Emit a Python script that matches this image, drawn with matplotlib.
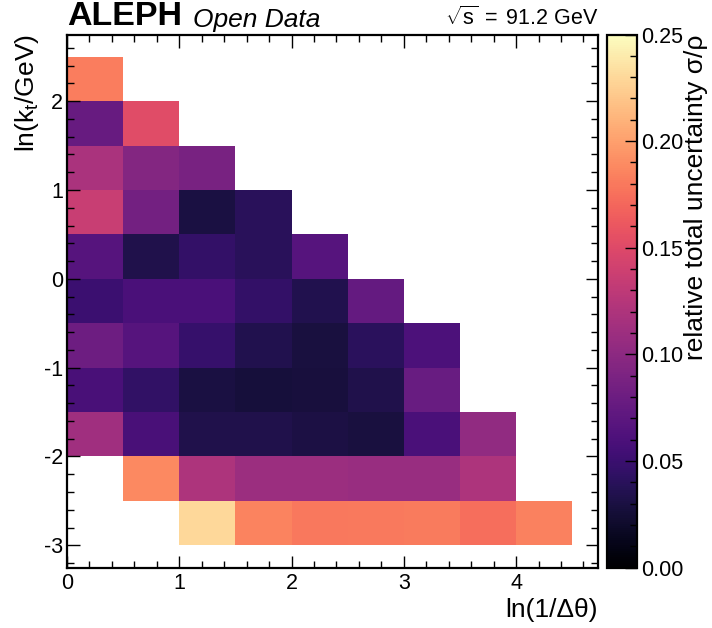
import numpy as np
import matplotlib
matplotlib.use("Agg")
import matplotlib.pyplot as plt
from matplotlib.ticker import MultipleLocator, FormatStrFormatter

plt.rcParams['font.family'] = ['Liberation Sans', 'DejaVu Sans']
plt.rcParams['mathtext.fontset'] = 'custom'
plt.rcParams['mathtext.rm'] = 'Liberation Sans'
plt.rcParams['mathtext.it'] = 'Liberation Sans:italic'
plt.rcParams['axes.unicode_minus'] = False

# bin edges: ln(1/dtheta) and ln(kt/GeV)
x_edges = np.arange(0, 5.0, 0.5)
y_edges = np.arange(-3.0, 3.0, 0.5)

nan = np.nan
# relative total uncertainty, one list per ln(kt) row, bottom (-3.0) to top (2.0)
row_m30 = [nan, nan, 0.230, 0.185, 0.179, 0.180, 0.181, 0.174, 0.184]
row_m25 = [nan, 0.188, 0.120, 0.109, 0.109, 0.107, 0.107, 0.120, nan]
row_m20 = [0.112, 0.058, 0.034, 0.034, 0.031, 0.029, 0.059, 0.103, nan]
row_m15 = [0.058, 0.044, 0.030, 0.027, 0.028, 0.034, 0.078, nan, nan]
row_m10 = [0.081, 0.066, 0.047, 0.035, 0.029, 0.041, 0.060, nan, nan]
row_m05 = [0.050, 0.059, 0.059, 0.045, 0.035, 0.075, nan, nan, nan]
row_p00 = [0.066, 0.034, 0.045, 0.040, 0.066, nan, nan, nan, nan]
row_p05 = [0.136, 0.084, 0.030, 0.040, nan, nan, nan, nan, nan]
row_p10 = [0.118, 0.094, 0.087, nan, nan, nan, nan, nan, nan]
row_p15 = [0.077, 0.152, nan, nan, nan, nan, nan, nan, nan]
row_p20 = [0.182, nan, nan, nan, nan, nan, nan, nan, nan]

rows = [row_m30, row_m25, row_m20, row_m15, row_m10, row_m05,
        row_p00, row_p05, row_p10, row_p15, row_p20]
z = np.ma.masked_invalid(np.array(rows))

fig = plt.figure(figsize=(7.12, 6.28), dpi=100)
ax = fig.add_axes([0.0941, 0.0963, 0.7458, 0.8487])
cax = fig.add_axes([0.852, 0.0963, 0.042, 0.8487])

mesh = ax.pcolormesh(x_edges, y_edges, z, cmap='magma', vmin=0, vmax=0.25)
ax.set_xlim(0, 4.73)
ax.set_ylim(-3.25, 2.75)

ax.xaxis.set_major_locator(MultipleLocator(1))
ax.xaxis.set_minor_locator(MultipleLocator(0.2))
ax.yaxis.set_major_locator(MultipleLocator(1))
ax.yaxis.set_minor_locator(MultipleLocator(0.2))
ax.tick_params(which='both', direction='in', top=True, right=True, labelsize=15.5, width=1.0)
ax.tick_params(which='major', length=9)
ax.tick_params(axis='y', which='major', pad=3)
ax.tick_params(axis='x', which='major', pad=4)
ax.tick_params(which='minor', length=5)
for s in ax.spines.values():
    s.set_linewidth(1.6)

ax.set_xlabel('ln(1/Δθ)', fontsize=19, loc='right', labelpad=3)
ax.set_ylabel(r'ln(k$_\mathrm{t}$/GeV)', fontsize=19, loc='top', labelpad=2)

cb = fig.colorbar(mesh, cax=cax)
cb.set_ticks(np.arange(0, 0.26, 0.05))
cb.ax.yaxis.set_major_formatter(FormatStrFormatter('%.2f'))
cb.ax.yaxis.set_minor_locator(MultipleLocator(0.01))
cb.ax.tick_params(which='both', direction='in', labelsize=15.5, width=1.0)
cb.ax.tick_params(which='major', length=9, pad=3)
cb.ax.tick_params(which='minor', length=5)
cb.outline.set_linewidth(1.6)
cb.set_label('relative total uncertainty σ/ρ', fontsize=19, loc='top', labelpad=1)

ax.text(0.0, 1.005, 'ALEPH', transform=ax.transAxes, fontsize=24.5,
        fontweight='bold', ha='left', va='bottom')
ax.text(0.237, 1.005, 'Open Data', transform=ax.transAxes, fontsize=19,
        fontstyle='italic', ha='left', va='bottom')
ax.text(1.0, 1.008, r'$\sqrt{\mathrm{s}}\;=\;\mathrm{91.2\ GeV}$', transform=ax.transAxes,
        fontsize=15.5, ha='right', va='bottom')

fig.savefig('out.png', dpi=100)
